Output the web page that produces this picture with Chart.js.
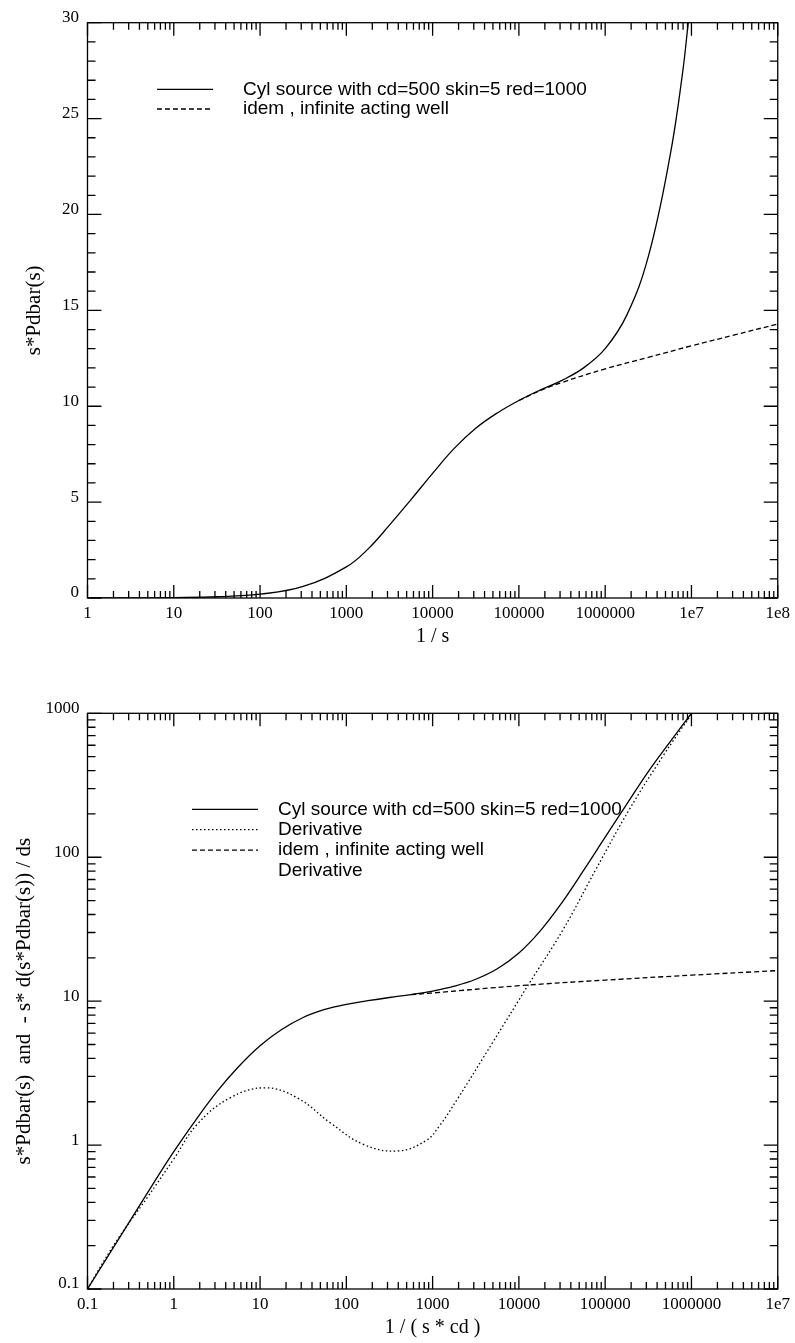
<!DOCTYPE html>
<html>
<head>
<meta charset="utf-8">
<script src="https://cdn.jsdelivr.net/npm/chart.js@4.4.1/dist/chart.umd.min.js"></script>
<style>
  body { margin: 0; background: #fff; }
  canvas { position: absolute; left: 0; }
  #top { top: 0; width: 795px; height: 660px; }
  #bottom { top: 660px; width: 795px; height: 683px; }
</style>
</head>
<body>
<canvas id="top" width="795" height="660"></canvas>
<canvas id="bottom" width="795" height="683"></canvas>
<script>
// top chart : s*Pdbar(s) against 1/s
const topXTicks = [1, 10, 100, 1000, 10000, 100000, 1000000, 1e7, 1e8]
const topYTicks = [0, 5, 10, 15, 20, 25, 30]

const cylX = [1, 3.2, 10, 32, 100, 316, 1000, 1780, 3160, 5620, 10000, 17800, 31600, 56200, 100000, 178000, 316000, 562000, 1000000, 1780000, 3160000, 5620000, 7900000, 9300000, 1e7]
const cylY = [0, 0.006, 0.02, 0.065, 0.2, 0.6, 1.62, 2.55, 3.8, 5.13, 6.5, 7.8, 8.85, 9.65, 10.3, 10.85, 11.35, 12.0, 13.0, 14.75, 17.8, 23.0, 27.4, 30.2, 31.2]

const infX = [100000, 178000, 316000, 1000000, 3160000, 1e7, 3.16e7, 1e8]
const infY = [10.3, 10.82, 11.24, 11.95, 12.55, 13.15, 13.72, 14.29]

// bottom chart : log-log against 1/(s*cd)
const botXTicks = [0.1, 1, 10, 100, 1000, 10000, 100000, 1000000, 1e7]
const botYTicks = [0.1, 1, 10, 100, 1000]

const cyl2X = [0.1, 0.178, 0.316, 0.562, 1, 1.78, 3.16, 5.62, 10, 17.8, 31.6, 56.2, 100, 178, 316, 562, 1000, 1780, 3160, 5620, 10000, 17800, 31600, 56200, 100000, 178000, 316000, 562000, 1000000]
const cyl2Y = [0.1, 0.174, 0.302, 0.525, 0.9, 1.48, 2.35, 3.5, 4.9, 6.35, 7.7, 8.75, 9.5, 10.07, 10.6, 11.1, 11.75, 12.7, 14.2, 16.8, 21.6, 30.9, 48.4, 81, 138, 234, 394, 631, 1000]

const derX = [0.1, 0.2, 0.49, 1, 1.86, 4.5, 11.5, 27, 65, 158, 400, 850, 1200, 1950, 5000, 13200, 32400, 77600, 190000, 468000, 1000000]
const derY = [0.1, 0.2, 0.43, 0.8, 1.39, 2.13, 2.5, 2.13, 1.43, 1.01, 0.91, 1.08, 1.36, 2.1, 5.2, 13.3, 31.3, 81.8, 214, 505, 985]

const inf2X = [562, 1000, 10000, 100000, 1000000, 1e7]
const inf2Y = [11.1, 11.4, 12.8, 14.0, 15.15, 16.3]

const serif = '"Liberation Serif", "Times New Roman", serif'
const sans = '"Liberation Sans", Arial, sans-serif'
Chart.defaults.color = '#000'

function pts(xs, ys) {
    return xs.map((x, i) => ({x: x, y: ys[i]}))
}

function fmt(v) {
    return v >= 1e7 ? '1e' + Math.round(Math.log10(v)) : String(v)
}

function minorTicks(scale) {
    let out = []
    if (scale.type === 'logarithmic') {
        let e0 = Math.round(Math.log10(scale.min))
        let e1 = Math.round(Math.log10(scale.max))
        for (let e = e0; e <= e1; e++) {
            for (let m = 1; m < 10; m++) {
                let v = m * Math.pow(10, e)
                if (v <= scale.max * 1.0001) out.push([v, m === 1])
            }
        }
    } else {
        for (let v = scale.min; v <= scale.max; v++) out.push([v, v % 5 === 0])
    }
    return out
}

// box round the plot with ticks pointing inwards on all four sides
const frameTicks = {
    id: 'frameTicks',
    afterDatasetsDraw(chart) {
        const ctx = chart.ctx
        const a = chart.chartArea
        const xs = chart.scales.x, ys = chart.scales.y
        ctx.save()
        ctx.strokeStyle = '#000'
        ctx.lineWidth = 1.3
        ctx.strokeRect(a.left, a.top, a.right - a.left, a.bottom - a.top)
        ctx.beginPath()
        for (const [v, major] of minorTicks(xs)) {
            let px = xs.getPixelForValue(v)
            let len = major ? 13 : 7
            ctx.moveTo(px, a.bottom); ctx.lineTo(px, a.bottom - len)
            ctx.moveTo(px, a.top); ctx.lineTo(px, a.top + len)
        }
        for (const [v, major] of minorTicks(ys)) {
            let py = ys.getPixelForValue(v)
            let len = major ? 14 : 8
            ctx.moveTo(a.left, py); ctx.lineTo(a.left + len, py)
            ctx.moveTo(a.right, py); ctx.lineTo(a.right - len, py)
        }
        ctx.stroke()
        ctx.restore()
    }
}

const legendBox = {
    id: 'legendBox',
    afterDraw(chart, args, opts) {
        const ctx = chart.ctx
        ctx.save()
        ctx.font = '19px ' + sans
        ctx.fillStyle = '#000'
        ctx.strokeStyle = '#000'
        ctx.textBaseline = 'middle'
        chart.data.datasets.forEach((ds, i) => {
            let y = opts.y + i * opts.gap
            if (ds.borderWidth > 0) {
                ctx.lineWidth = ds.borderWidth
                ctx.setLineDash(ds.borderDash || [])
                ctx.beginPath()
                ctx.moveTo(opts.x1, y)
                ctx.lineTo(opts.x2, y)
                ctx.stroke()
            }
            ctx.setLineDash([])
            ctx.fillText(ds.label, opts.textX, y)
        })
        ctx.restore()
    }
}

function line(label, data, dash) {
    return {
        label: label,
        data: data,
        borderColor: '#000',
        borderWidth: 1.3,
        borderDash: dash,
        pointRadius: 0,
        fill: false,
        tension: 0.4
    }
}

function logX(min, max, ticks, title, titlePad, height) {
    return {
        type: 'logarithmic', min: min, max: max,
        grid: {display: false, drawTicks: false}, border: {display: false},
        afterBuildTicks: s => { s.ticks = ticks.map(v => ({value: v})) },
        afterFit: s => { s.height = height },
        ticks: {autoSkip: false, maxRotation: 0, padding: 5, font: {family: serif, size: 17}, callback: v => fmt(v)},
        title: {display: true, text: title, font: {family: serif, size: 20}, padding: {top: 0, bottom: titlePad}}
    }
}

new Chart(document.getElementById('top'), {
    type: 'line',
    data: {
        datasets: [
            line('Cyl source with cd=500 skin=5 red=1000', pts(cylX, cylY), []),
            line('idem , infinite acting well', pts(infX, infY), [5, 3])
        ]
    },
    options: {
        responsive: false,
        animation: false,
        layout: {padding: {left: 0, right: 16, top: 22.7, bottom: 0}},
        scales: {
            x: logX(1, 1e8, topXTicks, '1 / s', 11, 62),
            y: {
                type: 'linear', min: 0, max: 30,
                grid: {display: false, drawTicks: false}, border: {display: false},
                afterBuildTicks: s => { s.ticks = topYTicks.map(v => ({value: v})) },
                afterFit: s => { s.width = 87.5 },
                ticks: {padding: 8.5, labelOffset: -5, font: {family: serif, size: 17}},
                title: {display: true, text: 's*Pdbar(s)', font: {family: serif, size: 21}, padding: {top: 22, bottom: 0}}
            }
        },
        plugins: {
            legend: {display: false},
            tooltip: {enabled: false},
            legendBox: {x1: 157, x2: 213, textX: 243, y: 89.3, gap: 19.7}
        }
    },
    plugins: [frameTicks, legendBox]
})

new Chart(document.getElementById('bottom'), {
    type: 'line',
    data: {
        datasets: [
            line('Cyl source with cd=500 skin=5 red=1000', pts(cyl2X, cyl2Y), []),
            line('Derivative', pts(derX, derY), [1.5, 2.5]),
            line('idem , infinite acting well', pts(inf2X, inf2Y), [5, 3]),
            Object.assign(line('Derivative', [], []), {borderWidth: 0})
        ]
    },
    options: {
        responsive: false,
        animation: false,
        layout: {padding: {left: 0, right: 16, top: 53.3, bottom: 0}},
        scales: {
            x: logX(0.1, 1e7, botXTicks, '1 / ( s * cd )', 3, 54),
            y: {
                type: 'logarithmic', min: 0.1, max: 1000,
                grid: {display: false, drawTicks: false}, border: {display: false},
                afterBuildTicks: s => { s.ticks = botYTicks.map(v => ({value: v})) },
                afterFit: s => { s.width = 87.5 },
                ticks: {padding: 8, labelOffset: -5, font: {family: serif, size: 17}, callback: v => String(v)},
                title: {display: true, text: 's*Pdbar(s)  and  - s* d(s*Pdbar(s)) / ds', font: {family: serif, size: 21}, padding: {top: 12, bottom: 0}}
            }
        },
        plugins: {
            legend: {display: false},
            tooltip: {enabled: false},
            legendBox: {x1: 192, x2: 258, textX: 278, y: 149.3, gap: 20.4}
        }
    },
    plugins: [frameTicks, legendBox]
})
</script>
</body>
</html>
